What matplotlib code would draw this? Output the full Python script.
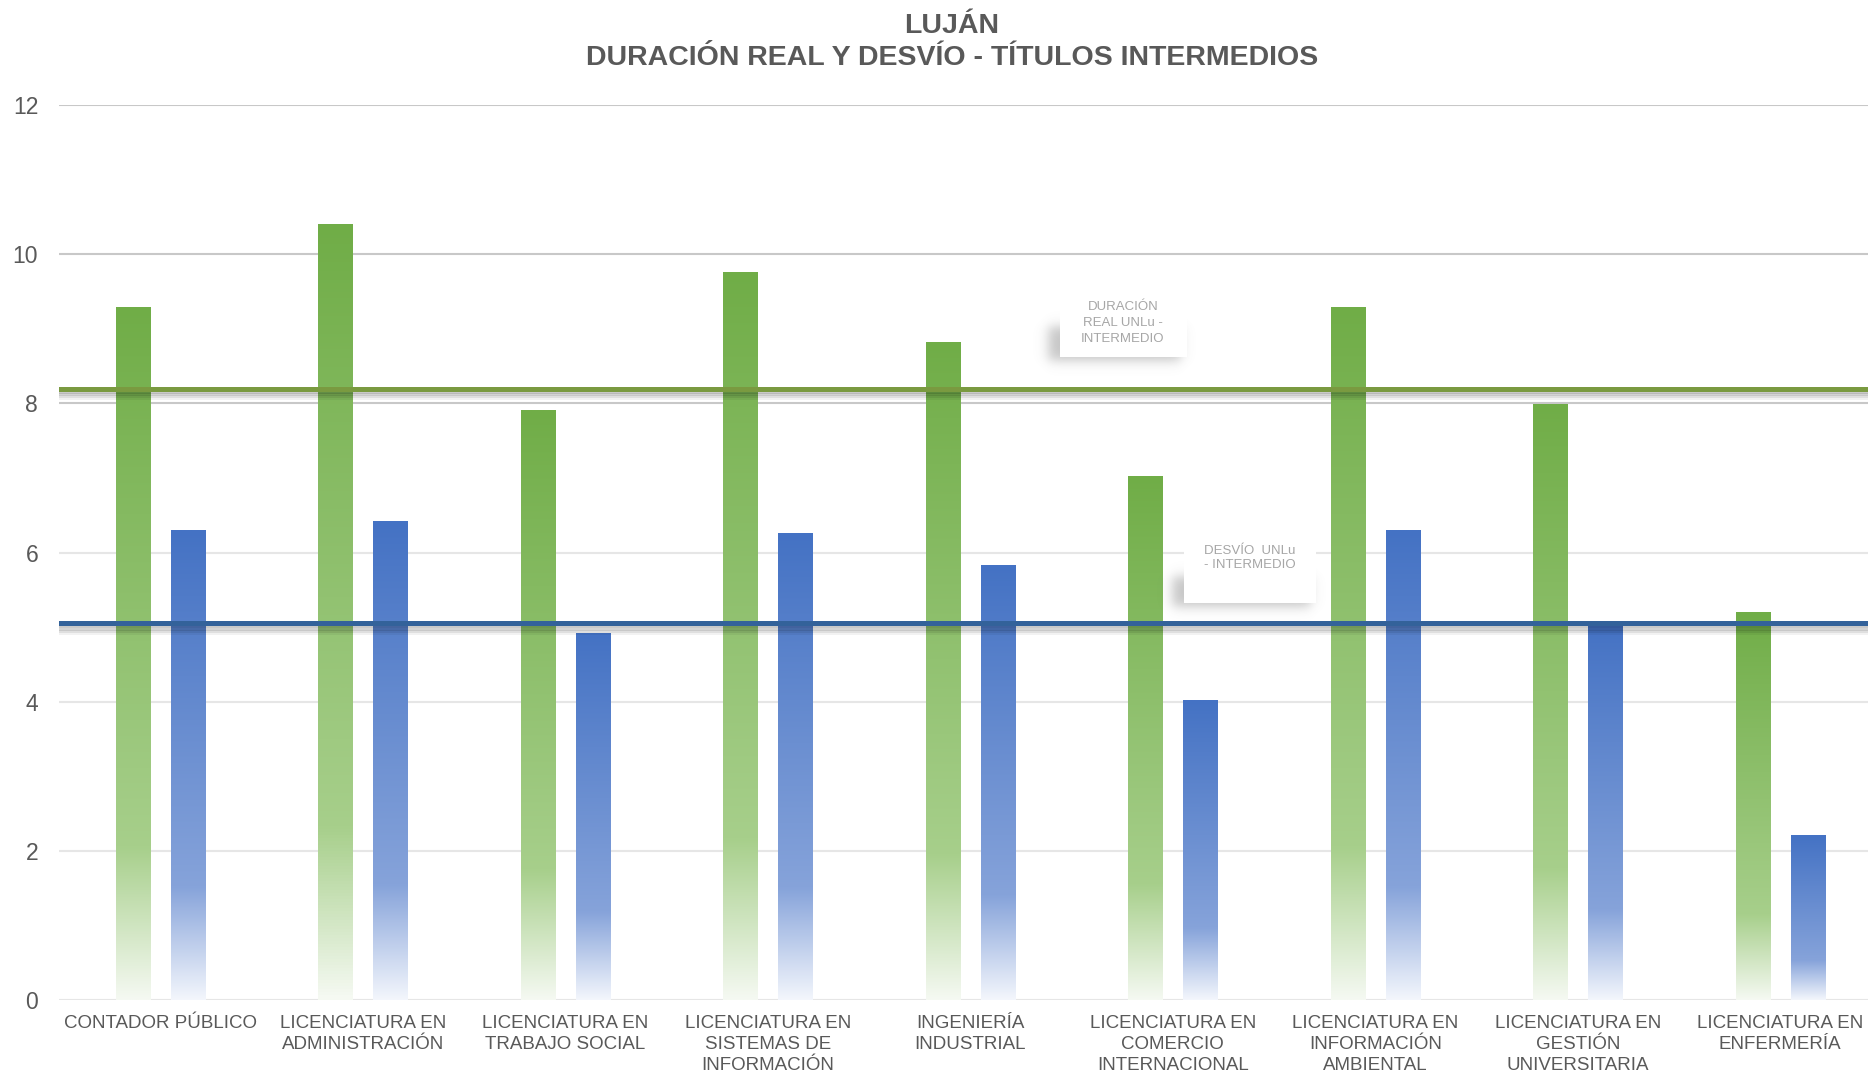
import numpy as np
import matplotlib
matplotlib.use("Agg")
import matplotlib.pyplot as plt
from matplotlib.colors import LinearSegmentedColormap
from matplotlib.patches import Rectangle
import matplotlib.patheffects as pe

# ---------------- data ----------------
categories = [
    "CONTADOR PÚBLICO",
    "LICENCIATURA EN\nADMINISTRACIÓN",
    "LICENCIATURA EN\nTRABAJO SOCIAL",
    "LICENCIATURA EN\nSISTEMAS DE\nINFORMACIÓN",
    "INGENIERÍA\nINDUSTRIAL",
    "LICENCIATURA EN\nCOMERCIO\nINTERNACIONAL",
    "LICENCIATURA EN\nINFORMACIÓN\nAMBIENTAL",
    "LICENCIATURA EN\nGESTIÓN\nUNIVERSITARIA",
    "LICENCIATURA EN\nENFERMERÍA",
]
duracion_real = [9.29, 10.40, 7.91, 9.75, 8.82, 7.02, 9.29, 7.99, 5.20]
desvio = [6.30, 6.41, 4.91, 6.25, 5.82, 4.01, 6.30, 5.02, 2.20]
duracion_unlu = 8.19
desvio_unlu = 5.05
y_ticks = [0, 2, 4, 6, 8, 10, 12]
title_1 = "LUJÁN"
title_2 = "DURACIÓN REAL Y DESVÍO - TÍTULOS INTERMEDIOS"
label_duracion = "DURACIÓN\nREAL UNLu -\nINTERMEDIO"
label_desvio = "DESVÍO  UNLu\n- INTERMEDIO"

# ---------------- style ----------------
W, H = 1868, 1075
plt.rcParams['font.family'] = ['Liberation Sans', 'DejaVu Sans']
TXT = '#595959'

fig = plt.figure(figsize=(W / 100, H / 100), dpi=100)
ax_left, ax_right, ax_top, ax_bot = 59, 1881.5, 105, 1000
ax = fig.add_axes([ax_left / W, 1 - ax_bot / H, (ax_right - ax_left) / W, (ax_bot - ax_top) / H])

green_cmap = LinearSegmentedColormap.from_list(
    'g', [(0.0, '#F5F9F2'), (0.22, '#A7CF8B'), (1.0, '#70AD47')])
blue_cmap = LinearSegmentedColormap.from_list(
    'b', [(0.0, '#F3F6FC'), (0.24, '#86A3DA'), (1.0, '#4472C4')])

grad = np.linspace(0, 1, 256).reshape(-1, 1)
bw = 0.168
off = 0.136
x = np.arange(len(categories))
for i in x:
    for val, dx, cm in ((duracion_real[i], -off, green_cmap), (desvio[i], off, blue_cmap)):
        ax.imshow(grad, cmap=cm, origin='lower', aspect='auto',
                  extent=[i + dx - bw / 2, i + dx + bw / 2, 0, val],
                  interpolation='bilinear', zorder=2)

# gridlines
for t in y_ticks:
    col = '#C8C8C8' if t >= 8 else '#E6E6E6'
    ax.axhline(t, color=col, lw=1.5, zorder=1)

# average lines with shadow
def shadow_effects():
    return [pe.SimpleLineShadow(offset=(0, -k), shadow_color='black', alpha=a, linewidth=3.6)
            for k, a in ((1.5, 0.12), (3, 0.10), (4.5, 0.08), (6, 0.05))] + [pe.Normal()]

ax.axhline(duracion_unlu, color='#7A9A40', lw=3.6, zorder=5, path_effects=shadow_effects())
ax.axhline(desvio_unlu, color='#33629A', lw=3.6, zorder=5, path_effects=shadow_effects())

ax.set_xlim(-0.5, len(categories) - 0.5)
ax.set_ylim(0, 12)
ax.set_yticks(y_ticks)
ax.set_xticks(x)
ax.set_xticklabels(categories, fontsize=13.5, color=TXT, linespacing=1.28)
ax.tick_params(axis='y', length=0, pad=15, labelsize=16.5, labelcolor=TXT)
ax.tick_params(axis='x', length=0, pad=11)
for s in ax.spines.values():
    s.set_visible(False)

# ---------------- annotation boxes ----------------
def soft_shadow(x0, y0, x1, y1, s=7, amax=0.45, margin=25):
    w = int(x1 - x0 + 2 * margin)
    h = int(y1 - y0 + 2 * margin)
    xs = np.arange(w) + x0 - margin
    ys = np.arange(h) + y0 - margin
    ax_ = 0.5 * (np.tanh((xs - x0) / s) - np.tanh((xs - x1) / s))
    ay_ = 0.5 * (np.tanh((ys - y0) / s) - np.tanh((ys - y1) / s))
    a = np.outer(ay_, ax_) * amax
    img = np.zeros((h, w, 4))
    img[..., :3] = 0.35
    img[..., 3] = a
    img = img[::-1]
    fig.figimage(img, xo=int(x0 - margin), yo=int(H - (y1 + margin)), zorder=3, origin='lower')

def box(x0, y0, x1, y1):
    fig.patches.append(Rectangle((x0 / W, 1 - y1 / H), (x1 - x0) / W, (y1 - y0) / H,
                                 transform=fig.transFigure, facecolor='white',
                                 edgecolor='none', zorder=4))

soft_shadow(1048, 326, 1180, 360, s=7, amax=0.35)
box(1060, 286, 1187, 357)
fig.text(1123 / W, 1 - 323 / H, label_duracion, ha='center', va='center',
         fontsize=9.5, color='#A6A6A6', linespacing=1.4, zorder=6)

soft_shadow(1172, 576, 1310, 606, s=7, amax=0.35)
box(1184, 532, 1316, 603)
fig.text(1250 / W, 1 - 558 / H, label_desvio, ha='center', va='center',
         fontsize=9.5, color='#A6A6A6', linespacing=1.2, zorder=6)

# ---------------- title ----------------
fig.text(952 / W, 1 - 26 / H, title_1, ha='center', va='center',
         fontsize=20.5, fontweight='bold', color=TXT)
fig.text(952 / W, 1 - 58 / H, title_2, ha='center', va='center',
         fontsize=20.5, fontweight='bold', color=TXT)

fig.savefig('out.png', dpi=100)
